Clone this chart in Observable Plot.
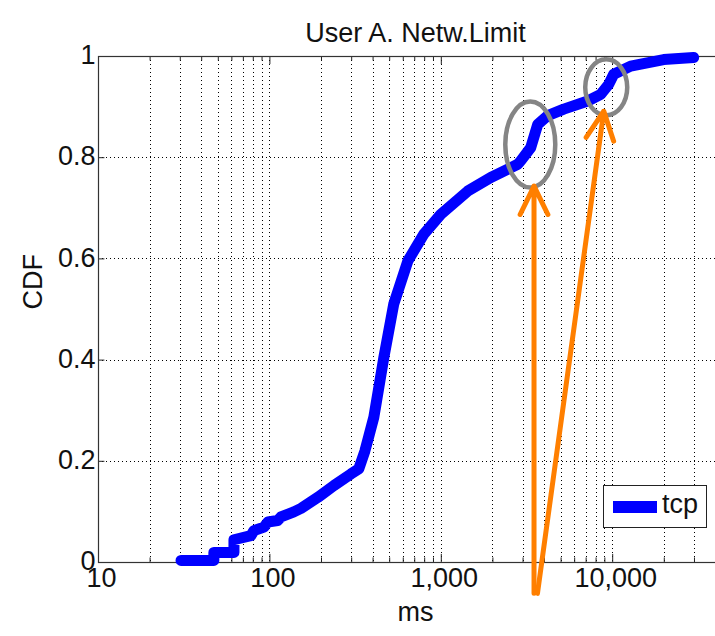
<!DOCTYPE html>
<html><head><meta charset="utf-8">
<script src="https://cdn.jsdelivr.net/npm/d3@7"></script>
<script src="https://cdn.jsdelivr.net/npm/@observablehq/plot@0.6"></script>
<style>
html,body{margin:0;padding:0;background:#fff;overflow:hidden;}
#wrap{position:relative;width:715px;height:636px;overflow:hidden;}
#wrap svg{max-width:none !important;}
#legend{position:absolute;left:603px;top:485px;width:102px;height:41px;border:1.5px solid #222;background:#fff;
  font-family:"Liberation Sans",Arial,sans-serif;font-size:27px;color:#111;}
#legend .sw{position:absolute;left:9px;top:15px;width:44px;height:12px;background:#0000ff;}
#legend .lb{position:absolute;left:58px;top:3px;}
</style></head>
<body><div id="wrap"></div>
<script>
const title = "User A. Netw.Limit";
const xLabel = "ms";
const yLabel = "CDF";
const seriesName = "tcp";

// tcp CDF curve (ms, cumulative fraction)
const ms  = [30.3, 47.1, 47.1, 61.7, 61.7, 77.5, 80.7, 92.3, 97.3, 111, 116, 138, 152, 191, 236, 297, 330, 358, 378, 404, 462, 528, 638, 791, 993, 1427, 1944, 2793, 2909, 3325, 3653, 4178, 5180, 7150, 8511, 9478, 10135, 12735, 19840, 29670];
const cdf = [0.004, 0.004, 0.02, 0.02, 0.045, 0.053, 0.063, 0.07, 0.08, 0.083, 0.09, 0.1, 0.107, 0.129, 0.152, 0.175, 0.185, 0.22, 0.25, 0.287, 0.405, 0.511, 0.596, 0.649, 0.688, 0.734, 0.761, 0.787, 0.794, 0.82, 0.866, 0.883, 0.896, 0.912, 0.925, 0.945, 0.965, 0.981, 0.994, 0.998];

const xTicks = [10, 100, 1000, 10000];
const xTickLabels = ["10", "100", "1,000", "10,000"];
const yTicks = [0, 0.2, 0.4, 0.6, 0.8, 1];
const yTickLabels = ["0", "0.2", "0.4", "0.6", "0.8", "1"];
const xMinor = [20,30,40,50,60,70,80,90,200,300,400,500,600,700,800,900,2000,3000,4000,5000,6000,7000,8000,9000,20000,30000,40000];
const yGrid = [0.2, 0.4, 0.6, 0.8];

// annotations: highlighted bumps and arrows
const ellipseMs = [3327, 9230];
const ellipseCdf = [0.825, 0.938];
const arrowFromMs = [3475, 3640];
const arrowFromCdf = [-0.061, -0.061];
const arrowToMs = [3475, 8870];
const arrowToCdf = [0.744, 0.892];

const data = ms.map((m, i) => ({ms: m, cdf: cdf[i]}));
const arrows = arrowFromMs.map((m, i) => ({x1: m, y1: arrowFromCdf[i], x2: arrowToMs[i], y2: arrowToCdf[i]}));
const ellRx = [25, 21], ellRy = [43, 28];

function ellipses(index, scales) {
  const g = d3.create("svg:g").attr("fill", "none").attr("stroke", "#858585").attr("stroke-width", 4.5);
  ellipseMs.forEach((m, i) => {
    g.append("ellipse")
      .attr("cx", scales.x(m)).attr("cy", scales.y(ellipseCdf[i]))
      .attr("rx", ellRx[i]).attr("ry", ellRy[i]);
  });
  return g.node();
}

const font = "Liberation Sans, Arial, sans-serif";
const grid = {stroke: "#000", strokeDasharray: "1,3", strokeWidth: 1, shapeRendering: "crispEdges"};
const chart = Plot.plot({
  width: 732, height: 636,
  marginLeft: 98, marginRight: 0, marginTop: 56, marginBottom: 74,
  x: {type: "log", domain: [10, 50000], axis: null},
  y: {domain: [0, 1], axis: null},
  style: {fontFamily: font, fontSize: "27px", background: "white", overflow: "visible", color: "#111", maxWidth: "none"},
  marks: [
    Plot.ruleX(xMinor.concat(xTicks.slice(1)), grid),
    Plot.ruleY(yGrid, grid),
    Plot.ruleX(xTicks, {y1: 0, y2: 0.016, stroke: "#222"}),
    Plot.ruleX(xMinor, {y1: 0, y2: 0.009, stroke: "#222"}),
    Plot.ruleX(xTicks, {y1: 1, y2: 0.984, stroke: "#222"}),
    Plot.ruleX(xMinor, {y1: 1, y2: 0.991, stroke: "#222"}),
    Plot.ruleY(yTicks, {x1: 10, x2: 10.9, stroke: "#222"}),
    Plot.frame({stroke: "#333", strokeWidth: 1.2}),
    Plot.line(data, {x: "ms", y: "cdf", stroke: "#0000ff", strokeWidth: 11, strokeLinejoin: "round", strokeLinecap: "round"}),
    ellipses,
    Plot.arrow(arrows, {x1: "x1", y1: "y1", x2: "x2", y2: "y2", stroke: "#ff7f00", strokeWidth: 5, headLength: 9.5, headAngle: 52}),
    Plot.text(yTicks, {y: d => d, text: (d, i) => yTickLabels[i], frameAnchor: "left", textAnchor: "end", dx: -3, dy: -1, fontSize: 27}),
    Plot.text(xTicks, {x: d => d, text: (d, i) => xTickLabels[i], frameAnchor: "bottom", dy: 24, dx: 3, fontSize: 27}),
    Plot.text([xLabel], {frameAnchor: "bottom", dy: 58, fontSize: 27}),
    Plot.text([yLabel], {frameAnchor: "left", dx: -65, rotate: -90, fontSize: 27}),
    Plot.text([title], {frameAnchor: "top", dy: -34, fontSize: 27, letterSpacing: 0.7})
  ]
});
chart.style.maxWidth = "none";
const wrap = document.getElementById("wrap");
wrap.appendChild(chart);
const leg = document.createElement("div");
leg.id = "legend";
leg.innerHTML = '<div class="sw"></div><div class="lb"></div>';
leg.querySelector(".lb").textContent = seriesName;
wrap.appendChild(leg);
</script>
</body></html>
